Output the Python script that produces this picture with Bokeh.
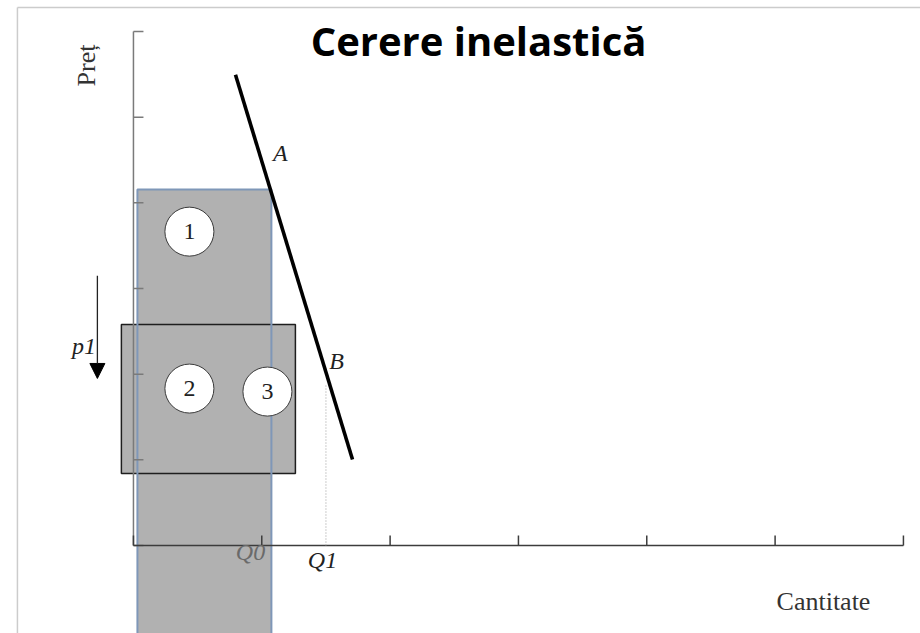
import math
from bokeh.plotting import figure
from bokeh.models import Range1d, Arrow, NormalHead
from bokeh.core.properties import value
from bokeh.embed import file_html
from bokeh.resources import INLINE

# ---- data ----
title_text = "Cerere inelastică"
x_label = "Cantitate"
y_label = "Preț"
x_ticks = [0, 1, 2, 3, 4, 5, 6]
y_ticks = [0, 1, 2, 3, 4, 5, 6]

demand_q = [0.795, 1.707]
demand_p = [5.496, 1.003]

rect_left = [0.031, -0.094]
rect_right = [1.075, 1.262]
rect_top = [4.155, 2.580]
rect_bottom = [-1.5, 0.840]

circle_labels = ["1", "2", "3"]
circle_q = [0.436, 0.436, 1.044]
circle_p = [3.664, 1.832, 1.797]

point_labels = ["A", "B"]
point_q = [1.145, 1.582]
point_p = [4.577, 2.149]

q_labels = ["Q0", "Q1"]
q_label_q = [0.912, 1.473]
q_label_p = [-0.081, -0.174]

q1_value = 1.50
q1_price = 1.87

p1_label = "p1"
p1_label_pos = (-0.386, 2.324)
p1_arrow_q = -0.281
p1_arrow_from = 3.15
p1_arrow_to = 1.95

title_pos = (2.689, 5.900)
x_label_pos = (5.377, -0.656)
y_label_pos = (-0.365, 5.603)

frame_q = -0.904
frame_p = 6.280

x_min, x_max = -1.036, 6.133
y_min, y_max = -1.027, 6.362

tick_dx = 0.078  # ~10px
tick_dy = 0.117  # ~10px

# ---- figure ----
p = figure(width=920, height=633,
           x_range=Range1d(x_min, x_max), y_range=Range1d(y_min, y_max),
           output_backend="svg", toolbar_location=None,
           x_axis_location=None, y_axis_location=None,
           min_border=0, outline_line_color=None)
p.grid.visible = False
p.background_fill_color = "white"
p.border_fill_color = "white"

# slide frame lines
p.segment(x0=[frame_q, frame_q], y0=[frame_p, frame_p], x1=[x_max, frame_q], y1=[frame_p, y_min],
          line_color="#cccccc", line_width=1.5)

# shaded areas
gray = "#b1b1b1"
p.quad(left=[rect_left[1]], right=[rect_right[1]], top=[rect_top[1]], bottom=[rect_bottom[1]],
       fill_color=gray, line_color=None)
p.quad(left=[rect_left[0]], right=[rect_right[0]], top=[rect_top[0]], bottom=[rect_bottom[0]],
       fill_color=gray, line_color=None)
p.quad(left=[rect_left[1]], right=[rect_right[1]], top=[rect_top[1]], bottom=[rect_bottom[1]],
       fill_color=None, line_color="#1e1e1e", line_width=1.5)
p.quad(left=[rect_left[0]], right=[rect_right[0]], top=[rect_top[0]], bottom=[rect_bottom[0]],
       fill_color=None, line_color="#7f97b8", line_width=2)

# axes drawn as lines
p.line(x=[0, 0], y=[y_ticks[0], y_ticks[-1]], line_color="#7a7a7a", line_width=1.5)
p.segment(x0=[0] * len(y_ticks), y0=y_ticks, x1=[tick_dx] * len(y_ticks), y1=y_ticks,
          line_color="#7a7a7a", line_width=1.5)
p.line(x=[x_ticks[0], x_ticks[-1]], y=[0, 0], line_color="#3c3c3c", line_width=1.5)
p.segment(x0=x_ticks, y0=[0] * len(x_ticks), x1=x_ticks, y1=[tick_dy] * len(x_ticks),
          line_color="#3c3c3c", line_width=1.5)

# dotted guide to Q1
p.line(x=[q1_value, q1_value], y=[0, q1_price], line_color="#9a9a9a", line_width=1, line_dash="1 2")

# demand line
p.line(x=demand_q, y=demand_p, line_color="black", line_width=3.6)

# circles
p.scatter(x=circle_q, y=circle_p, marker="circle", size=49, fill_color="white",
          line_color="#3a3a3a", line_width=1)
p.text(x=circle_q, y=circle_p, text=circle_labels, text_font=value("Liberation Serif"),
       text_font_size="24px", text_align="center", text_baseline="middle", text_color="#222222")

# point labels
p.text(x=point_q, y=point_p, text=point_labels, text_font=value("Liberation Serif"),
       text_font_style="italic", text_font_size="24px", text_align="center",
       text_baseline="middle", text_color="#222222")

# Q labels
p.text(x=q_label_q, y=q_label_p, text=q_labels, text_font=value("Liberation Serif"),
       text_font_style="italic", text_font_size="24px", text_align="center",
       text_baseline="middle", text_color=["#6a6a6a", "#222222"])

# p1 arrow and label
p.add_layout(Arrow(end=NormalHead(size=15, fill_color="black", line_color="black"),
                   x_start=p1_arrow_q, y_start=p1_arrow_from, x_end=p1_arrow_q, y_end=p1_arrow_to,
                   line_color="#222222", line_width=1.3))
p.text(x=[p1_label_pos[0]], y=[p1_label_pos[1]], text=[p1_label], text_font=value("Liberation Serif"),
       text_font_style="italic", text_font_size="24px", text_align="center",
       text_baseline="middle", text_color="#222222")

# axis labels
p.text(x=[x_label_pos[0]], y=[x_label_pos[1]], text=[x_label], text_font=value("Liberation Serif"),
       text_font_size="26px", text_align="center", text_baseline="middle", text_color="#333333")
p.text(x=[y_label_pos[0]], y=[y_label_pos[1]], text=[y_label], text_font=value("Liberation Serif"),
       text_font_size="26px", text_align="center", text_baseline="middle", text_color="#333333",
       angle=math.pi / 2)

# title
p.text(x=[title_pos[0]], y=[title_pos[1]], text=[title_text], text_font=value("Open Sans"),
       text_font_style="bold", text_font_size="40px", text_align="center",
       text_baseline="middle", text_color="black")

open("out.html", "w").write(file_html(p, INLINE))
